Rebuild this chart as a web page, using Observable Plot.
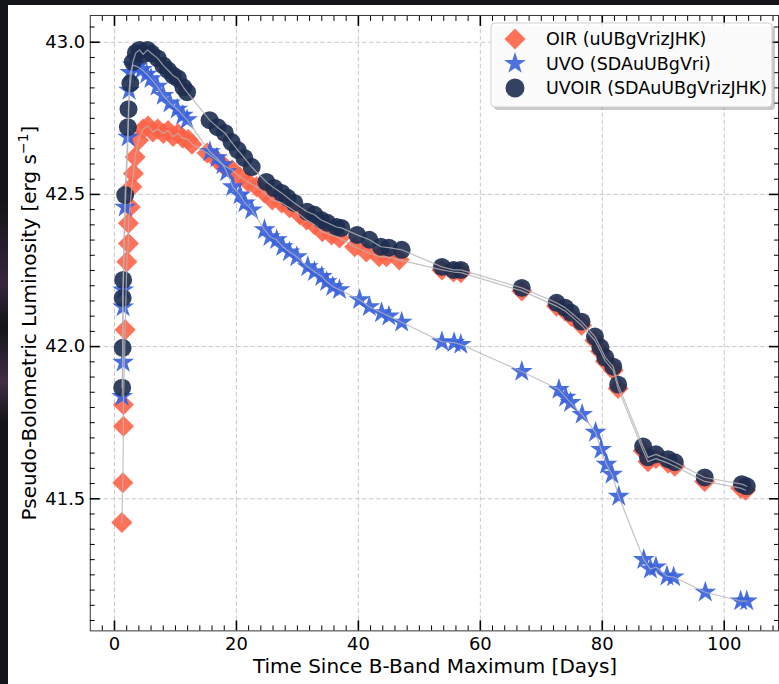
<!DOCTYPE html>
<html><head><meta charset="utf-8">
<script src="https://cdn.jsdelivr.net/npm/d3@7"></script>
<script src="https://cdn.jsdelivr.net/npm/@observablehq/plot@0.6"></script>
<style>
html,body{margin:0;padding:0;overflow:hidden;background:#131418;width:779px;height:684px;}
#streak{position:absolute;left:0;top:200px;width:8px;height:280px;background:linear-gradient(180deg,rgba(19,20,24,0) 0%,rgba(120,70,130,0.35) 30%,rgba(19,20,24,0) 45%,rgba(150,90,150,0.35) 65%,rgba(19,20,24,0) 80%);}
#panel{position:absolute;left:8px;top:5px;right:0;bottom:0;background:#fff;}
#chart{position:absolute;left:0;top:0;}
.lbl{position:absolute;font-family:"DejaVu Sans",sans-serif;font-size:20px;color:#000;white-space:nowrap;line-height:20px;}
.lbl sup{font-size:14px;line-height:0;vertical-align:8px;}
#xlabel{left:435px;top:656px;transform:translateX(-50%);}
#ylabel{left:29px;top:323px;transform:translate(-50%,-50%) rotate(-90deg);}
#legend{position:absolute;left:488px;top:20px;overflow:visible;}
</style></head><body>
<div id="streak"></div>
<div id="panel"></div>
<div id="chart"></div>
<div class="lbl" id="xlabel">Time Since B-Band Maximum [Days]</div>
<div class="lbl" id="ylabel">Pseudo-Bolometric Luminosity [erg s<sup>−1</sup>]</div>
<svg id="legend" width="292" height="95"></svg>
<script>
// ---- data ----
const seriesNames = ["OIR (uUBgVrizJHK)", "UVO (SDAuUBgVri)", "UVOIR (SDAuUBgVrizJHK)"];

const oirDays = [1.21,1.37,1.47,1.47,1.75,2.03,2.29,2.29,2.57,2.85,3.11,3.39,3.93,
  4.7,5.5,6.3,7.1,8.0,8.8,9.6,10.4,11.2,12.1,12.7,
  15.2,16.8,17.8,19.3,20.6,21.9,23.3,24.6,25.9,27.4,28.7,30.4,31.5,32.8,34.1,35.6,36.9,39.4,41.3,43.4,44.6,46.7,
  53.7,55.6,56.8,66.8,72.5,73.9,74.9,76.6,78.8,79.7,80.5,81.8,82.6,86.7,87.5,88.8,90.8,91.9,96.8,102.7,103.5];
const oirLum = [41.422,41.553,41.738,41.809,42.055,42.279,42.339,42.405,42.459,42.525,42.569,42.623,42.678,
  42.715,42.725,42.705,42.715,42.70,42.71,42.69,42.70,42.685,42.68,42.665,
  42.636,42.613,42.597,42.58,42.557,42.541,42.525,42.505,42.482,42.472,42.456,42.433,42.416,42.40,42.377,42.367,42.357,42.328,42.311,42.295,42.295,42.285,
  42.252,42.245,42.243,42.183,42.133,42.117,42.10,42.07,42.02,41.985,41.952,41.922,41.862,41.658,41.622,41.632,41.617,41.607,41.557,41.535,41.528];

const uvoDays = [1.26,1.42,1.42,1.42,1.75,2.24,2.4,2.6,3.0,3.7,4.5,5.3,6.0,7.0,8.0,9.1,10.3,11.2,11.9,
  15.65,16.8,17.8,18.4,19.4,20.6,21.4,22.5,24.6,25.5,26.6,27.6,28.7,29.9,31.7,32.8,34.0,34.8,35.8,36.9,40.2,41.8,43.8,45.0,47.1,
  53.7,55.7,56.8,66.8,72.9,74.0,74.8,76.7,78.9,79.8,80.7,81.6,82.7,86.8,87.9,88.8,90.6,91.7,96.9,102.7,103.7];
const uvoLum = [41.836,41.948,42.13,42.186,42.458,42.688,42.842,42.90,42.925,42.92,42.91,42.895,42.88,42.855,42.825,42.80,42.78,42.76,42.745,
  42.64,42.62,42.597,42.574,42.525,42.498,42.472,42.449,42.384,42.361,42.351,42.328,42.311,42.295,42.262,42.246,42.23,42.213,42.197,42.187,42.154,42.131,42.111,42.10,42.08,
  42.016,42.013,42.007,41.918,41.859,41.833,41.816,41.777,41.718,41.662,41.613,41.58,41.508,41.30,41.269,41.276,41.246,41.243,41.193,41.164,41.164];

const uvoirDays = [1.26,1.34,1.34,1.42,1.75,2.2,2.3,2.6,3.0,3.5,4.1,4.7,5.4,6.1,7.1,8.0,8.8,9.6,10.4,11.3,11.9,
  15.6,16.9,18.1,19.2,20.2,21.3,22.5,24.9,26.2,27.4,28.4,29.5,31.6,32.8,33.9,34.9,36.4,37.2,39.8,41.8,43.7,45.0,47.1,
  53.7,55.6,56.8,66.8,72.5,73.9,74.9,76.6,78.8,79.7,80.5,81.8,82.6,86.7,87.5,88.8,90.8,91.9,96.8,102.9,103.7];
const uvoirLum = [41.865,41.996,42.16,42.219,42.498,42.721,42.78,42.865,42.935,42.965,42.975,42.96,42.975,42.963,42.947,42.924,42.908,42.891,42.881,42.852,42.836,
  42.744,42.721,42.702,42.672,42.646,42.62,42.59,42.541,42.521,42.505,42.489,42.472,42.443,42.433,42.416,42.407,42.393,42.39,42.367,42.351,42.328,42.325,42.318,
  42.262,42.252,42.252,42.193,42.144,42.128,42.111,42.082,42.033,41.997,41.964,41.934,41.875,41.672,41.636,41.646,41.63,41.62,41.57,41.548,41.541];

const xMajor = [0, 20, 40, 60, 80, 100];
const yMajor = [41.5, 42.0, 42.5, 43.0];

// ---- build tables ----
const oir = oirDays.map((d, i) => ({day: d, lum: oirLum[i]}));
const uvo = uvoDays.map((d, i) => ({day: d, lum: uvoLum[i]}));
const uvoir = uvoirDays.map((d, i) => ({day: d, lum: uvoirLum[i]}));

const xMinor = d3.range(-2, 109, 2).filter(v => v % 20 !== 0);
const yMinor = d3.range(41.1, 43.08, 0.05).map(v => +v.toFixed(2)).filter(v => !yMajor.some(m => Math.abs(m - v) < 1e-6));

const C_OIR = "#ff6347", C_UVO = "#3a62dc", C_UVOIR = "#1d2d50";
const lineStyle = {x: "day", y: "lum", stroke: "#b4b4b4", strokeWidth: 1.2, strokeOpacity: 0.8};
const gridStyle = {stroke: "#c8c8c8", strokeOpacity: 1, strokeDasharray: "4.5,2.5", strokeWidth: 1};
const blank = () => "";

const plot = Plot.plot({
  width: 781, height: 684,
  marginLeft: 90, marginRight: 1, marginTop: 15, marginBottom: 52,
  style: {fontFamily: "DejaVu Sans", fontSize: "18px", background: "transparent", overflow: "visible", color: "#000"},
  x: {domain: [-3.97, 108.9]},
  y: {domain: [41.066, 43.088]},
  marks: [
    Plot.gridX(xMajor, gridStyle),
    Plot.gridY(yMajor, gridStyle),
    Plot.dot(oir, {x: "day", y: "lum", symbol: "diamond2", r: 9.5, fill: C_OIR, fillOpacity: 0.9}),
    Plot.dot(uvo, {x: "day", y: "lum", symbol: "star", r: 6.9, fill: C_UVO, fillOpacity: 0.92}),
    Plot.dot(uvoir, {x: "day", y: "lum", r: 9, fill: C_UVOIR, fillOpacity: 0.9}),
    Plot.line(oir, lineStyle),
    Plot.line(uvo, lineStyle),
    Plot.line(uvoir, lineStyle),
    Plot.frame({stroke: "#333", strokeWidth: 1}),
    // major ticks (inward, all four sides)
    Plot.axisX(xMajor, {anchor: "bottom", tickSize: -10, strokeWidth: 1.6, tickFormat: blank, label: null}),
    Plot.axisX(xMajor, {anchor: "top", tickSize: -10, strokeWidth: 1.6, tickFormat: blank, label: null}),
    Plot.axisY(yMajor, {anchor: "left", tickSize: -10, strokeWidth: 1.6, tickFormat: blank, label: null}),
    Plot.axisY(yMajor, {anchor: "right", tickSize: -10, strokeWidth: 1.6, tickFormat: blank, label: null}),
    // minor ticks
    Plot.axisX(xMinor, {anchor: "bottom", tickSize: -5, strokeWidth: 1, tickFormat: blank, label: null}),
    Plot.axisX(xMinor, {anchor: "top", tickSize: -5, strokeWidth: 1, tickFormat: blank, label: null}),
    Plot.axisY(yMinor, {anchor: "left", tickSize: -5, strokeWidth: 1, tickFormat: blank, label: null}),
    Plot.axisY(yMinor, {anchor: "right", tickSize: -5, strokeWidth: 1, tickFormat: blank, label: null}),
    // tick labels
    Plot.axisX(xMajor, {anchor: "bottom", tickSize: 0, tickPadding: 6, tickFormat: d3.format("d"), label: null}),
    Plot.axisY(yMajor, {anchor: "left", tickSize: 0, tickPadding: 5, tickFormat: d3.format(".1f"), label: null})
  ]
});
document.getElementById("chart").appendChild(plot);

// ---- legend ----
const lg = d3.select("#legend");
const bx = 3, by = 3, bw = 281, bh = 84;
lg.append("rect").attr("x", bx + 3).attr("y", by + 3).attr("width", bw).attr("height", bh).attr("rx", 4)
  .attr("fill", "#888").attr("fill-opacity", 0.45);
lg.append("rect").attr("x", bx).attr("y", by).attr("width", bw).attr("height", bh).attr("rx", 4)
  .attr("fill", "#fff").attr("fill-opacity", 0.92).attr("stroke", "#cfcfcf").attr("stroke-width", 1);
const entries = [
  {name: seriesNames[0], sym: d3.symbolDiamond2, r: 9.5, color: C_OIR},
  {name: seriesNames[1], sym: d3.symbolStar, r: 6.9, color: C_UVO},
  {name: seriesNames[2], sym: d3.symbolCircle, r: 9.5, color: C_UVOIR}
];
entries.forEach((e, i) => {
  const cy = by + 16 + i * 24.5;
  lg.append("path").attr("transform", `translate(${bx + 24},${cy})`)
    .attr("d", d3.symbol(e.sym, Math.PI * e.r * e.r)()).attr("fill", e.color).attr("fill-opacity", 0.9);
  lg.append("text").attr("x", bx + 55).attr("y", cy).attr("dy", "0.35em")
    .attr("font-family", "DejaVu Sans").attr("font-size", 17.5).attr("fill", "#000").text(e.name);
});
</script>
</body></html>
